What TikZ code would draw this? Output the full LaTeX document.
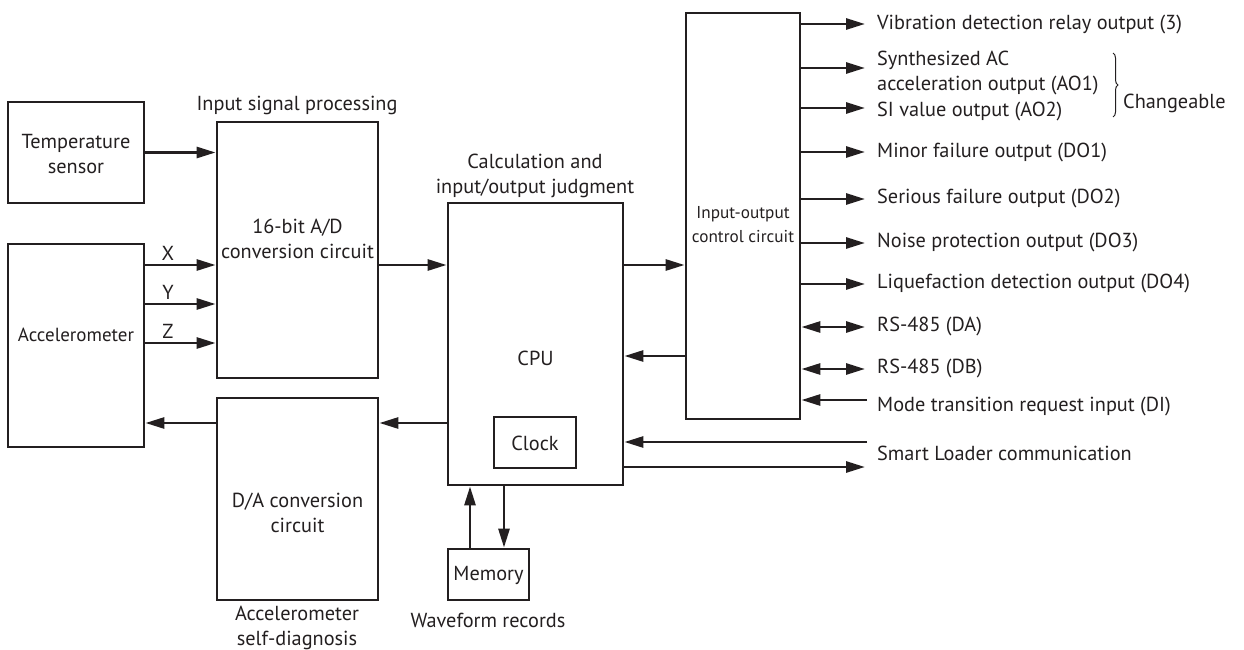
\documentclass[tikz,border=0pt]{standalone}
\usepackage{fontspec}
\setmainfont{PT Sans}
\usetikzlibrary{positioning,arrows.meta,decorations.pathreplacing}
\definecolor{ink}{HTML}{231F20}
\tikzset{
  % --- blocks ---
  blk/.style={draw=ink, line width=2.8pt, inner sep=0pt},
  txt/.style={font=\fontsize{20.3}{25}\selectfont, text=ink, align=center,
              inner sep=0pt},
  smalltxt/.style={txt, font=\fontsize{17.2}{24}\selectfont},
  % --- signal lines ---
  sig/.style={draw=ink, line width=2.8pt, -{Triangle[length=19pt,width=11pt]}},
  bisig/.style={draw=ink, line width=2.8pt,
                {Triangle[length=19pt,width=11pt]}-{Triangle[length=19pt,width=11pt]}},
}

\begin{document}
\begin{tikzpicture}[x=1pt,y=-1pt]
  \useasboundingbox (0,0) rectangle (1244,650);
  % blocks
  \node[blk, minimum width=136, minimum height=101] (temp) at (76,152.5) {};
  \node[blk, minimum width=136, minimum height=203] (acc) at (76,345.5) {};
  \node[blk, minimum width=161, minimum height=256] (ad) at (297.5,250) {};
  \node[blk, minimum width=161, minimum height=202] (da) at (297.5,499) {};
  \node[blk, minimum width=175, minimum height=282] (cpu) at (535.5,344) {};
  \node[blk, minimum width=82, minimum height=51] (clock) at (535,442.5) {};
  \node[blk, minimum width=81, minimum height=51] (mem) at (488.5,574.5) {};
  \node[blk, minimum width=114, minimum height=406] (io) at (743,216) {};

  % block texts
  \node[txt] (ttemp) at (76,154.5) {Temperature\\sensor};
  \node[txt, font=\fontsize{19}{25}\selectfont] (tacc) at (76,335) {Accelerometer};
  \node[txt] (tad) at (297.5,239) {16-bit A/D\\conversion circuit};
  \node[txt] (tda) at (297.5,512.5) {D/A conversion\\circuit};
  \node[txt] (tcpu) at (535.5,358) {CPU};
  \node[txt] (tclock) at (535,443) {Clock};
  \node[txt] (tmem) at (488.5,575) {Memory};
  \node[smalltxt] (tio) at (743,225) {Input-output\\control circuit};

  % captions
  \node[txt] (cin) at (297,105) {Input signal processing};
  \node[txt] (ccpu) at (535,175.5) {Calculation and\\input/output judgment};
  \node[txt] (cdiag) at (297,627.5) {Accelerometer\\self-diagnosis};
  \node[txt] (cwave) at (488,620) {Waveform records};

  % inputs
  \draw[sig] (temp.east) -- (temp.east -| ad.west);
  \draw[sig] (acc.east |- 0,265) -- (ad.west |- 0,265);
  \draw[sig] (acc.east |- 0,304) -- (ad.west |- 0,304);
  \draw[sig] (acc.east |- 0,343) -- (ad.west |- 0,343);
  \node[txt] (lx) at (168,253) {X};
  \node[txt] (ly) at (168,292) {Y};
  \node[txt] (lz) at (168,331) {Z};

  % processing chain
  \draw[sig] (ad.east |- 0,265) -- (cpu.west |- 0,265);
  \draw[sig] (cpu.east |- 0,265) -- (io.west |- 0,265);
  \draw[sig] (io.west |- 0,356) -- (cpu.east |- 0,356);
  \draw[sig] (cpu.west |- 0,423) -- (da.east |- 0,423);
  \draw[sig] (da.west |- 0,423) -- (acc.east |- 0,423);
  \draw[sig] (mem.north -| 470,0) -- (cpu.south -| 470,0);
  \draw[sig] (cpu.south -| 504,0) -- (mem.north -| 504,0);

  % smart loader
  \coordinate (slin) at (867,442);
  \coordinate (slout) at (865,467);
  \draw[sig] (slin) -- (slin -| cpu.east);
  \draw[sig] (slout -| cpu.east) -- (slout);
  \node[txt, anchor=west] (tsl) at (877,453) {Smart Loader communication};

  % outputs of the input-output control circuit
  \coordinate (o1) at (865,24);
  \coordinate (o2) at (865,68);
  \coordinate (o3) at (865,108);
  \coordinate (o4) at (865,152);
  \coordinate (o5) at (865,199);
  \coordinate (o6) at (865,243);
  \coordinate (o7) at (865,284);
  \coordinate (o8) at (865,327);
  \coordinate (o9) at (865,369);
  \coordinate (o10) at (867,400);
  \draw[sig] (o1 -| io.east) -- (o1);
  \draw[sig] (o2 -| io.east) -- (o2);
  \draw[sig] (o3 -| io.east) -- (o3);
  \draw[sig] (o4 -| io.east) -- (o4);
  \draw[sig] (o5 -| io.east) -- (o5);
  \draw[sig] (o6 -| io.east) -- (o6);
  \draw[sig] (o7 -| io.east) -- (o7);
  \draw[bisig] (o8 -| io.east) -- (o8);
  \draw[bisig] (o9 -| io.east) -- (o9);
  \draw[sig] (o10) -- (o10 -| io.east);

  \node[txt, anchor=west] (t1) at (877,25) {Vibration detection relay output (3)};
  \node[txt, anchor=west, align=left] (t2) at (877,73) {Synthesized AC\\acceleration output (AO1)};
  \node[txt, anchor=west] (t3) at (877,112) {SI value output (AO2)};
  \node[txt, anchor=west] (t4) at (877,153) {Minor failure output (DO1)};
  \node[txt, anchor=west] (t5) at (877,199) {Serious failure output (DO2)};
  \node[txt, anchor=west] (t6) at (877,243) {Noise protection output (DO3)};
  \node[txt, anchor=west] (t7) at (877,284) {Liquefaction detection output (DO4)};
  \node[txt, anchor=west] (t8) at (877,327) {RS-485 (DA)};
  \node[txt, anchor=west] (t9) at (877,369) {RS-485 (DB)};
  \node[txt, anchor=west] (t10) at (877,407) {Mode transition request input (DI)};

  % changeable brace
  \coordinate (bt) at (1113,53);
  \coordinate (bb) at (1113,117);
  \draw[ink, line width=1pt, decorate, decoration={brace, amplitude=5pt}] (bt) -- (bb);
  \node[txt, anchor=west] (tchg) at (1123,103) {Changeable};
\end{tikzpicture}
\end{document}
